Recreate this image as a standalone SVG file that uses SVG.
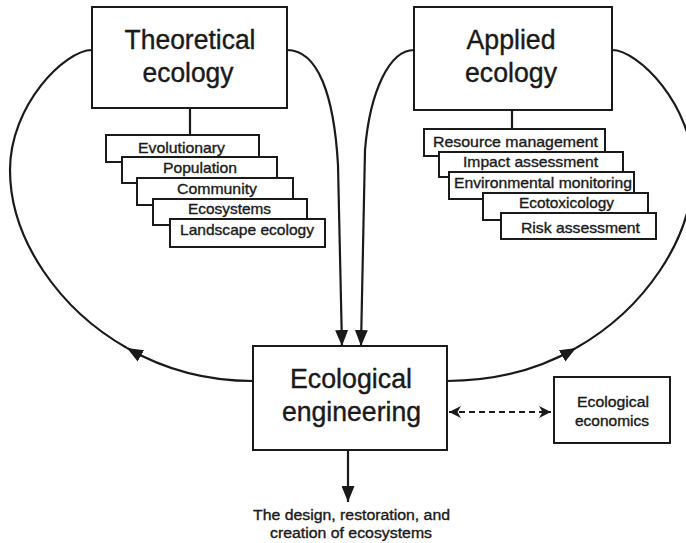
<svg xmlns="http://www.w3.org/2000/svg" width="686" height="543" viewBox="0 0 686 543">
  <style>
    .box { fill: #ffffff; stroke: #1a1a1a; stroke-width: 2; }
    .ln { fill: none; stroke: #1a1a1a; stroke-width: 2.2; }
    .dash { fill: none; stroke: #1a1a1a; stroke-width: 2; stroke-dasharray: 6 4; }
    text { font-family: "Liberation Sans", Arial, Helvetica, sans-serif; fill: #1a1a1a; text-anchor: middle; stroke: #1a1a1a; }
    .big { font-size: 27px; stroke-width: 0.4; }
    .sm { font-size: 15px; stroke-width: 0.35; }
    .cap { font-size: 14px; stroke-width: 0.35; }
  </style>
  <defs>
    <marker id="ah" markerUnits="userSpaceOnUse" viewBox="0 0 16 13" refX="16" refY="6.5" markerWidth="16" markerHeight="13" orient="auto">
      <path d="M0,0 L16,6.5 L0,13 Z" fill="#1a1a1a"/>
    </marker>
    <marker id="bh" markerUnits="userSpaceOnUse" viewBox="0 0 12 12" refX="12" refY="6" markerWidth="12" markerHeight="12" orient="auto-start-reverse">
      <path d="M0,0 L12,6 L0,12 L3.5,6 Z" fill="#1a1a1a"/>
    </marker>
  </defs>

  <g id="connectors">
    <line class="ln" x1="190" y1="108" x2="190" y2="135"/>
    <line class="ln" x1="512" y1="110" x2="512" y2="129"/>
    <path class="ln" d="M287,50 C318,50 334,95 338,165 L342,346" marker-end="url(#ah)"/>
    <path class="ln" d="M414,50 C390,50 370,90 365,150 L361,346" marker-end="url(#ah)"/>
    <path class="ln" d="M253,381 C210,381 167,371 127,348" marker-end="url(#ah)"/>
    <path class="ln" d="M127,348 C60,310 10,240 10,170 C10,105 65,50 92,50"/>
    <path class="ln" d="M447,381 C490,381 536,371 576,348" marker-end="url(#ah)"/>
    <path class="ln" d="M576,348 C643,310 693,240 693,170 C693,105 638,50 612,50"/>
    <line class="dash" x1="449" y1="412" x2="551" y2="412" marker-start="url(#bh)" marker-end="url(#bh)"/>
    <line class="ln" x1="348" y1="450" x2="348" y2="502" marker-end="url(#ah)"/>
  </g>

  <g id="theoretical-ecology">
    <rect class="box" x="92" y="7" width="195" height="101"/>
    <text class="big" x="190" y="49" textLength="131" lengthAdjust="spacingAndGlyphs">Theoretical</text>
    <text class="big" x="188" y="82" textLength="91" lengthAdjust="spacingAndGlyphs">ecology</text>
  </g>

  <g id="theoretical-list">
    <g id="evolutionary">
      <rect class="box" x="106" y="135" width="153" height="27"/>
      <text class="sm" x="181.5" y="153" textLength="87" lengthAdjust="spacingAndGlyphs">Evolutionary</text>
    </g>
    <g id="population">
      <rect class="box" x="122" y="157" width="155" height="26"/>
      <text class="sm" x="200" y="173" textLength="74" lengthAdjust="spacingAndGlyphs">Population</text>
    </g>
    <g id="community">
      <rect class="box" x="137" y="178" width="156" height="27"/>
      <text class="sm" x="217" y="194" textLength="80" lengthAdjust="spacingAndGlyphs">Community</text>
    </g>
    <g id="ecosystems">
      <rect class="box" x="153" y="199" width="154" height="26"/>
      <text class="sm" x="229.5" y="214" textLength="83" lengthAdjust="spacingAndGlyphs">Ecosystems</text>
    </g>
    <g id="landscape-ecology">
      <rect class="box" x="170" y="219" width="155" height="28"/>
      <text class="sm" x="247" y="235" textLength="134" lengthAdjust="spacingAndGlyphs">Landscape ecology</text>
    </g>
  </g>

  <g id="applied-ecology">
    <rect class="box" x="414" y="7" width="198" height="103"/>
    <text class="big" x="511" y="49" textLength="89" lengthAdjust="spacingAndGlyphs">Applied</text>
    <text class="big" x="511" y="82" textLength="92" lengthAdjust="spacingAndGlyphs">ecology</text>
  </g>

  <g id="applied-list">
    <g id="resource-management">
      <rect class="box" x="424" y="129" width="181" height="27"/>
      <text class="sm" x="515.5" y="147" textLength="165" lengthAdjust="spacingAndGlyphs">Resource management</text>
    </g>
    <g id="impact-assessment">
      <rect class="box" x="439" y="152" width="184" height="25"/>
      <text class="sm" x="530.5" y="167" textLength="135" lengthAdjust="spacingAndGlyphs">Impact assessment</text>
    </g>
    <g id="environmental-monitoring">
      <rect class="box" x="449" y="172" width="185" height="27"/>
      <text class="sm" x="543" y="188" textLength="178" lengthAdjust="spacingAndGlyphs">Environmental monitoring</text>
    </g>
    <g id="ecotoxicology">
      <rect class="box" x="483" y="193" width="165" height="27"/>
      <text class="sm" x="566.5" y="208" textLength="95" lengthAdjust="spacingAndGlyphs">Ecotoxicology</text>
    </g>
    <g id="risk-assessment">
      <rect class="box" x="501" y="213" width="155" height="26"/>
      <text class="sm" x="580.5" y="233" textLength="119" lengthAdjust="spacingAndGlyphs">Risk assessment</text>
    </g>
  </g>

  <g id="ecological-engineering">
    <rect class="box" x="253" y="346" width="194" height="104"/>
    <text class="big" x="351" y="388" textLength="122" lengthAdjust="spacingAndGlyphs">Ecological</text>
    <text class="big" x="351.5" y="421" textLength="139" lengthAdjust="spacingAndGlyphs">engineering</text>
  </g>

  <g id="ecological-economics">
    <rect class="box" x="554" y="377" width="116" height="66"/>
    <text class="cap" x="613" y="407" textLength="72" lengthAdjust="spacingAndGlyphs">Ecological</text>
    <text class="cap" x="612" y="426" textLength="74" lengthAdjust="spacingAndGlyphs">economics</text>
  </g>

  <g id="outcome">
    <text class="cap" x="351.5" y="520" textLength="197" lengthAdjust="spacingAndGlyphs">The design, restoration, and</text>
    <text class="cap" x="351" y="538" textLength="162" lengthAdjust="spacingAndGlyphs">creation of ecosystems</text>
  </g>
</svg>
